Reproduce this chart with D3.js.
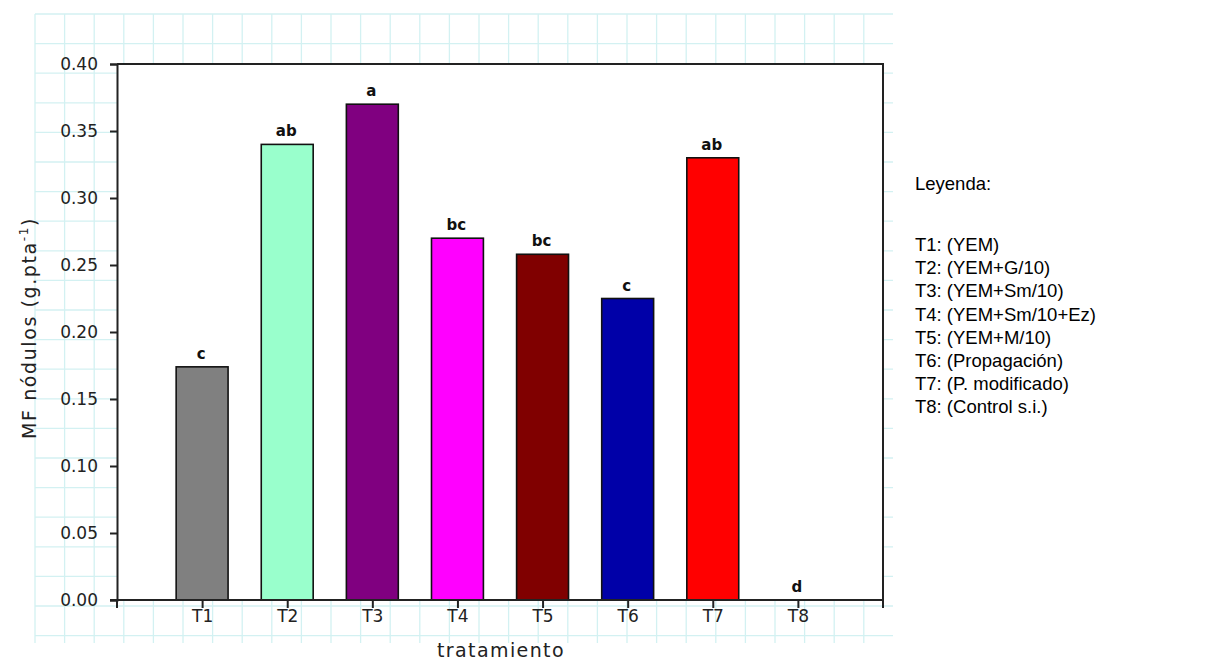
<!DOCTYPE html>
<html>
<head>
<meta charset="utf-8">
<script src="https://cdn.jsdelivr.net/npm/d3@7/dist/d3.min.js"></script>
<style>
  html, body { margin: 0; padding: 0; background: #ffffff; }
  svg { display: block; }
</style>
</head>
<body>
<script>
// Treatments and nodule fresh mass per plant
const categories = ["T1", "T2", "T3", "T4", "T5", "T6", "T7", "T8"];
const values = [0.174, 0.340, 0.370, 0.270, 0.258, 0.225, 0.330, 0];
const letters = ["c", "ab", "a", "bc", "bc", "c", "ab", "d"];
const barColors = ["#808080", "#99ffcc", "#800080", "#ff00ff", "#800000", "#0000a8", "#ff0000", "none"];
const yTicks = [0, 0.05, 0.10, 0.15, 0.20, 0.25, 0.30, 0.35, 0.40];
const legendTitle = "Leyenda:";
const legendItems = [
  "T1: (YEM)",
  "T2: (YEM+G/10)",
  "T3: (YEM+Sm/10)",
  "T4: (YEM+Sm/10+Ez)",
  "T5: (YEM+M/10)",
  "T6: (Propagación)",
  "T7: (P. modificado)",
  "T8: (Control s.i.)"
];

const W = 1211, H = 662;
const plot = { left: 117, right: 883, top: 64, bottom: 600 };

const svg = d3.select("body").append("svg")
  .attr("width", W).attr("height", H);

// graph-paper backdrop
const grid = svg.append("g").attr("stroke", "#d3f1f2").attr("stroke-width", 1.3);
const gx0 = 35, gx1 = 893, gy0 = 14, gy1 = 643, gs = 29.6;
for (let x = gx0; x <= gx1; x += gs) {
  grid.append("line").attr("x1", x).attr("x2", x).attr("y1", gy0).attr("y2", gy1);
}
for (let y = gy0; y <= gy1; y += gs) {
  grid.append("line").attr("x1", gx0).attr("x2", gx1).attr("y1", y).attr("y2", y);
}

// plotting area
svg.append("rect")
  .attr("x", plot.left).attr("y", plot.top)
  .attr("width", plot.right - plot.left).attr("height", plot.bottom - plot.top)
  .attr("fill", "#ffffff");

const x = d3.scalePoint().domain(categories)
  .range([plot.left, plot.right]).padding(1);
const y = d3.scaleLinear().domain([0, 0.40]).range([plot.bottom, plot.top]);
const barW = x.step() * 0.61;

// bars
svg.append("g").selectAll("rect")
  .data(categories.filter((c, i) => values[i] > 0))
  .join("rect")
  .attr("x", c => x(c) - barW / 2)
  .attr("y", c => y(values[categories.indexOf(c)]))
  .attr("width", barW)
  .attr("height", c => y(0) - y(values[categories.indexOf(c)]))
  .attr("fill", c => barColors[categories.indexOf(c)])
  .attr("stroke", "#111")
  .attr("stroke-width", 1.6);

// significance letters
svg.append("g").selectAll("text")
  .data(categories)
  .join("text")
  .attr("x", c => x(c) - 1)
  .attr("y", (c, i) => y(values[i]) - 8)
  .attr("text-anchor", "middle")
  .attr("font-family", "DejaVu Sans, sans-serif")
  .attr("font-weight", "bold")
  .attr("font-size", 15)
  .attr("fill", "#111")
  .text((c, i) => letters[i]);

// frame: top and right borders
const frame = svg.append("g").attr("stroke", "#222").attr("stroke-width", 2).attr("fill", "none");
frame.append("line").attr("x1", plot.left).attr("x2", plot.right + 1)
  .attr("y1", plot.top).attr("y2", plot.top);
frame.append("line").attr("x1", plot.right).attr("x2", plot.right)
  .attr("y1", plot.top).attr("y2", plot.bottom + 8);
frame.append("line").attr("x1", plot.left).attr("x2", plot.left)
  .attr("y1", plot.bottom).attr("y2", plot.bottom + 8);

// y axis
const yAxis = svg.append("g")
  .attr("transform", `translate(${plot.left},0)`)
  .call(d3.axisLeft(y).tickValues(yTicks).tickFormat(d3.format(".2f"))
    .tickSize(7).tickPadding(12));
yAxis.select(".domain").attr("stroke", "#222").attr("stroke-width", 2);
yAxis.selectAll(".tick line").attr("stroke", "#222").attr("stroke-width", 2);
yAxis.selectAll(".tick text")
  .attr("font-family", "DejaVu Sans, sans-serif")
  .attr("font-size", 17).attr("fill", "#222");

// x axis
const xAxis = svg.append("g")
  .attr("transform", `translate(0,${plot.bottom})`)
  .call(d3.axisBottom(x).tickSize(8).tickPadding(2).tickSizeOuter(0));
xAxis.select(".domain").attr("stroke", "#222").attr("stroke-width", 2)
  .attr("d", `M${plot.left - 7},0H${plot.right}`);
xAxis.selectAll(".tick line").attr("stroke", "#222").attr("stroke-width", 2);
xAxis.selectAll(".tick text")
  .attr("font-family", "DejaVu Sans, sans-serif")
  .attr("font-size", 17).attr("fill", "#222");

// axis titles
svg.append("text")
  .attr("x", 501).attr("y", 657)
  .attr("text-anchor", "middle")
  .attr("font-family", "DejaVu Sans, sans-serif")
  .attr("font-size", 19)
  .attr("letter-spacing", 1.4)
  .attr("fill", "#222")
  .text("tratamiento");

const yt = svg.append("text")
  .attr("transform", "translate(36,328) rotate(-90)")
  .attr("text-anchor", "middle")
  .attr("font-family", "DejaVu Sans, sans-serif")
  .attr("font-size", 19)
  .attr("letter-spacing", 1.6)
  .attr("fill", "#222");
yt.append("tspan").text("MF nódulos (g.pta");
yt.append("tspan").attr("dy", -8).attr("font-size", 12).text("-1");
yt.append("tspan").attr("dy", 8).text(")");

// legend
const lg = svg.append("g")
  .attr("font-family", "Liberation Sans, Arial, sans-serif")
  .attr("font-size", 18.5)
  .attr("fill", "#000");
lg.append("text").attr("x", 915).attr("y", 190).text(legendTitle);
lg.selectAll("text.item")
  .data(legendItems)
  .join("text")
  .attr("class", "item")
  .attr("x", 915)
  .attr("y", (d, i) => 251 + i * 23.2)
  .text(d => d);
</script>
</body>
</html>
